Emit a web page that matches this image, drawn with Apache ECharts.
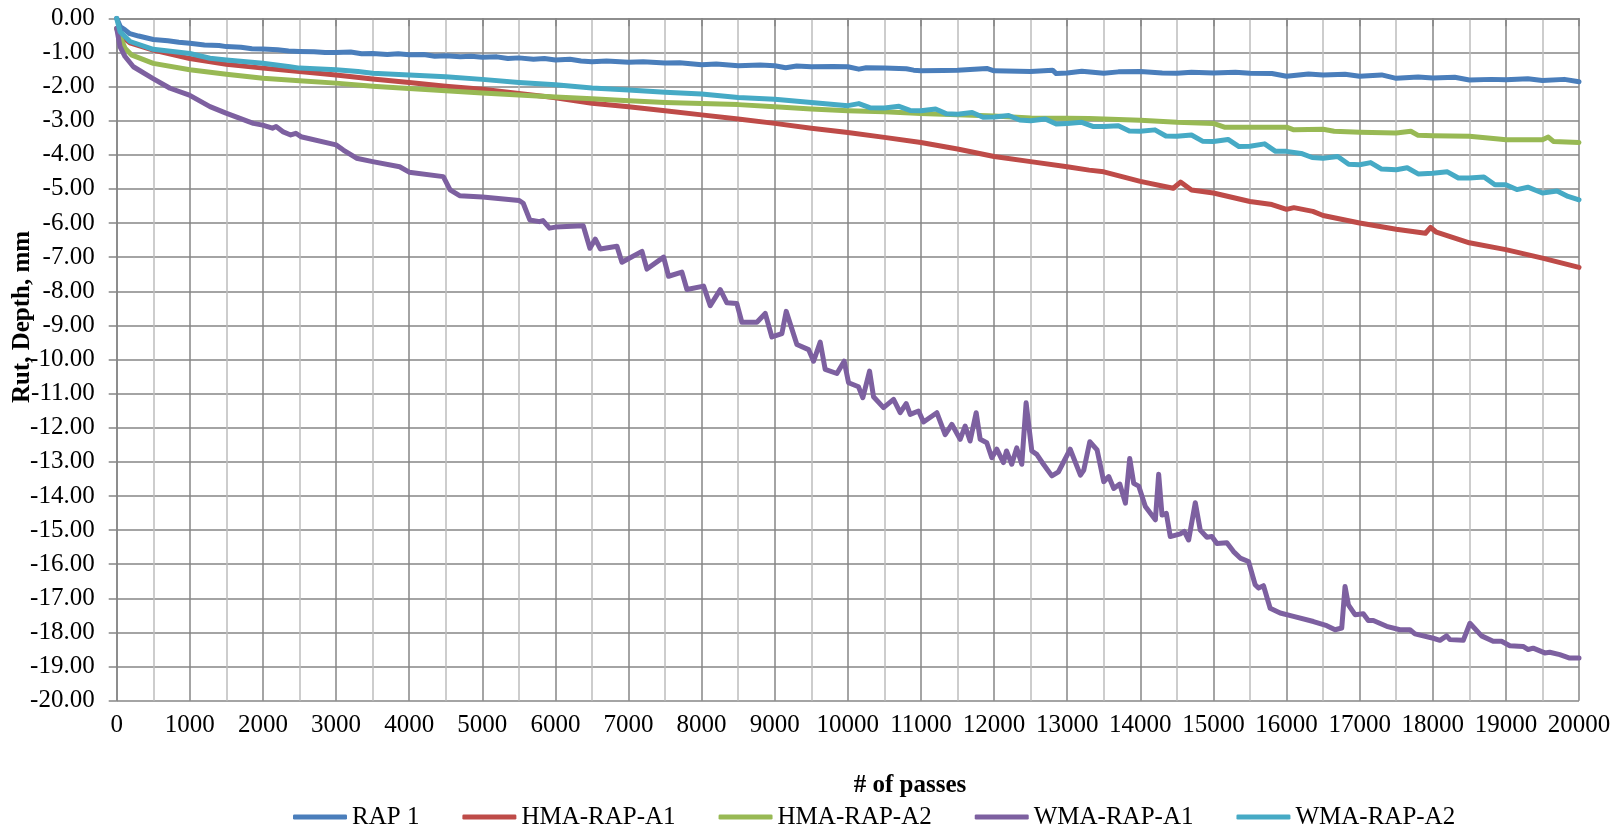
<!DOCTYPE html>
<html>
<head>
<meta charset="utf-8">
<script src="https://cdn.jsdelivr.net/npm/echarts@6/dist/echarts.min.js"></script>
<style>
html,body{margin:0;padding:0;background:#fff;}
#chart{width:1621px;height:833px;}
</style>
</head>
<body>
<div id="chart"></div>
<script>
const seriesNames = ['RAP 1', 'HMA-RAP-A1', 'HMA-RAP-A2', 'WMA-RAP-A1', 'WMA-RAP-A2'];
const xAxisTitle = '# of passes';
const yAxisTitle = 'Rut, Depth, mm';

const rap1 = [[0,0],[50,-0.25],[114,-0.34],[180,-0.45],[300,-0.52],[500,-0.62],[700,-0.66],[850,-0.7],[1000,-0.73],[1200,-0.78],[1400,-0.8],[1500,-0.83],[1700,-0.85],[1850,-0.89],[2000,-0.9],[2200,-0.92],[2350,-0.96],[2500,-0.97],[2700,-0.98],[2850,-1.0],[3000,-1.0],[3200,-0.99],[3350,-1.04],[3500,-1.03],[3700,-1.06],[3850,-1.04],[4000,-1.07],[4200,-1.06],[4350,-1.11],[4500,-1.1],[4700,-1.13],[4850,-1.11],[5000,-1.14],[5200,-1.13],[5350,-1.18],[5500,-1.16],[5700,-1.2],[5850,-1.18],[6000,-1.22],[6200,-1.2],[6350,-1.25],[6500,-1.27],[6700,-1.25],[7000,-1.29],[7200,-1.27],[7500,-1.31],[7700,-1.3],[8000,-1.36],[8200,-1.34],[8500,-1.39],[8800,-1.37],[9000,-1.39],[9150,-1.45],[9300,-1.4],[9500,-1.42],[9800,-1.41],[10000,-1.42],[10150,-1.49],[10250,-1.45],[10500,-1.46],[10800,-1.48],[10900,-1.52],[11000,-1.54],[11300,-1.53],[11500,-1.52],[11900,-1.47],[12000,-1.54],[12500,-1.56],[12800,-1.52],[12850,-1.62],[13000,-1.6],[13200,-1.55],[13500,-1.61],[13700,-1.57],[14000,-1.56],[14300,-1.6],[14500,-1.61],[14700,-1.58],[15000,-1.6],[15300,-1.58],[15500,-1.61],[15800,-1.62],[16000,-1.7],[16300,-1.63],[16500,-1.66],[16800,-1.64],[17000,-1.7],[17300,-1.66],[17500,-1.76],[17800,-1.72],[18000,-1.75],[18300,-1.73],[18500,-1.81],[18800,-1.79],[19000,-1.8],[19300,-1.77],[19500,-1.82],[19800,-1.79],[20000,-1.86]];

const hmaRapA1 = [[0,-0.3],[50,-0.5],[180,-0.72],[500,-0.93],[1000,-1.18],[1500,-1.35],[2000,-1.46],[2500,-1.56],[3000,-1.66],[3500,-1.78],[4000,-1.88],[4500,-1.99],[5000,-2.08],[5500,-2.2],[6000,-2.33],[6500,-2.49],[7000,-2.59],[7500,-2.71],[8000,-2.83],[8500,-2.95],[9000,-3.08],[9500,-3.22],[10000,-3.35],[10500,-3.49],[11000,-3.64],[11500,-3.83],[12000,-4.05],[12500,-4.2],[13000,-4.35],[13300,-4.45],[13500,-4.5],[14000,-4.78],[14450,-4.98],[14550,-4.8],[14700,-5.03],[15000,-5.12],[15500,-5.37],[15800,-5.46],[16000,-5.6],[16100,-5.55],[16360,-5.66],[16500,-5.78],[17000,-6.0],[17500,-6.18],[17900,-6.3],[17970,-6.13],[18050,-6.27],[18500,-6.58],[19000,-6.78],[19500,-7.03],[20000,-7.3]];

const hmaRapA2 = [[0,-0.3],[114,-0.88],[200,-1.07],[500,-1.32],[1000,-1.51],[1500,-1.64],[2000,-1.76],[2500,-1.83],[3000,-1.9],[3500,-1.99],[4000,-2.06],[4500,-2.12],[5000,-2.19],[5500,-2.25],[6000,-2.31],[6500,-2.36],[7000,-2.42],[7500,-2.47],[8000,-2.5],[8500,-2.53],[9000,-2.59],[9500,-2.66],[10000,-2.71],[10500,-2.74],[11000,-2.79],[11500,-2.83],[12000,-2.86],[12500,-2.92],[13000,-2.93],[13300,-2.94],[13500,-2.95],[14000,-2.99],[14500,-3.05],[15000,-3.08],[15150,-3.19],[15500,-3.19],[16000,-3.19],[16100,-3.27],[16500,-3.25],[16650,-3.31],[17000,-3.34],[17500,-3.36],[17700,-3.31],[17800,-3.43],[18000,-3.44],[18500,-3.46],[18900,-3.54],[19000,-3.56],[19500,-3.56],[19580,-3.48],[19650,-3.61],[20000,-3.64]];

const wmaRapA1 = [[0,-0.29],[45,-0.83],[114,-1.12],[228,-1.42],[492,-1.76],[729,-2.05],[994,-2.25],[1276,-2.59],[1495,-2.78],[1869,-3.08],[1996,-3.13],[2130,-3.22],[2180,-3.17],[2270,-3.32],[2380,-3.42],[2450,-3.37],[2520,-3.47],[3000,-3.71],[3100,-3.86],[3280,-4.1],[3500,-4.2],[3870,-4.35],[4000,-4.51],[4467,-4.64],[4560,-5.03],[4690,-5.2],[5004,-5.24],[5505,-5.34],[5560,-5.42],[5650,-5.91],[5780,-5.96],[5830,-5.93],[5920,-6.15],[5998,-6.12],[6381,-6.08],[6472,-6.74],[6546,-6.47],[6614,-6.76],[6842,-6.68],[6910,-7.15],[7184,-6.83],[7252,-7.35],[7480,-7.0],[7548,-7.56],[7730,-7.44],[7799,-7.95],[8027,-7.85],[8118,-8.42],[8255,-7.95],[8346,-8.34],[8482,-8.36],[8551,-8.91],[8756,-8.91],[8870,-8.65],[8961,-9.34],[9098,-9.24],[9157,-8.59],[9303,-9.56],[9463,-9.71],[9531,-10.05],[9622,-9.49],[9690,-10.29],[9850,-10.41],[9950,-10.05],[10010,-10.68],[10146,-10.8],[10205,-11.12],[10297,-10.34],[10351,-11.09],[10488,-11.41],[10625,-11.17],[10716,-11.56],[10798,-11.29],[10853,-11.61],[10967,-11.51],[11035,-11.83],[11217,-11.56],[11331,-12.2],[11422,-11.9],[11536,-12.34],[11604,-11.95],[11672,-12.39],[11755,-11.56],[11810,-12.34],[11900,-12.44],[11969,-12.88],[12037,-12.63],[12128,-13.02],[12170,-12.68],[12242,-13.07],[12310,-12.59],[12379,-13.07],[12438,-11.27],[12516,-12.68],[12584,-12.78],[12675,-13.07],[12790,-13.41],[12881,-13.29],[13041,-12.63],[13181,-13.39],[13227,-13.24],[13309,-12.41],[13409,-12.65],[13500,-13.58],[13568,-13.43],[13637,-13.78],[13719,-13.65],[13796,-14.21],[13855,-12.9],[13910,-13.63],[13978,-13.71],[14069,-14.31],[14206,-14.7],[14251,-13.36],[14297,-14.56],[14356,-14.51],[14410,-15.19],[14547,-15.11],[14601,-15.04],[14661,-15.29],[14752,-14.2],[14820,-15.0],[14911,-15.21],[14979,-15.19],[15047,-15.39],[15184,-15.37],[15275,-15.63],[15366,-15.82],[15480,-15.92],[15571,-16.6],[15617,-16.7],[15685,-16.63],[15776,-17.29],[15913,-17.43],[16095,-17.53],[16368,-17.68],[16550,-17.8],[16664,-17.92],[16755,-17.87],[16800,-16.65],[16846,-17.19],[16937,-17.48],[17050,-17.45],[17118,-17.65],[17187,-17.65],[17369,-17.82],[17551,-17.92],[17688,-17.92],[17756,-18.04],[18007,-18.17],[18098,-18.23],[18189,-18.1],[18235,-18.21],[18417,-18.23],[18508,-17.73],[18667,-18.1],[18826,-18.26],[18940,-18.26],[19054,-18.39],[19236,-18.41],[19305,-18.5],[19373,-18.46],[19532,-18.6],[19600,-18.58],[19737,-18.65],[19873,-18.75],[20000,-18.75]];

const wmaRapA2 = [[0,0],[46,-0.39],[182,-0.68],[500,-0.91],[1000,-1.03],[1276,-1.17],[1500,-1.22],[2000,-1.32],[2370,-1.42],[2500,-1.46],[3000,-1.51],[3300,-1.56],[3500,-1.61],[4000,-1.66],[4500,-1.71],[5000,-1.79],[5500,-1.88],[6000,-1.95],[6500,-2.04],[7000,-2.1],[7500,-2.17],[8000,-2.22],[8500,-2.32],[9000,-2.37],[9500,-2.47],[10000,-2.56],[10150,-2.5],[10300,-2.62],[10500,-2.63],[10700,-2.58],[10850,-2.7],[11000,-2.71],[11200,-2.66],[11350,-2.8],[11500,-2.81],[11700,-2.76],[11850,-2.9],[12000,-2.89],[12200,-2.85],[12350,-2.98],[12500,-3.0],[12700,-2.95],[12850,-3.1],[13000,-3.08],[13200,-3.05],[13350,-3.17],[13500,-3.17],[13700,-3.15],[13850,-3.3],[14000,-3.31],[14200,-3.27],[14350,-3.45],[14500,-3.46],[14700,-3.42],[14850,-3.6],[15000,-3.61],[15200,-3.55],[15350,-3.76],[15500,-3.75],[15700,-3.68],[15850,-3.9],[16000,-3.9],[16200,-3.96],[16350,-4.08],[16500,-4.1],[16700,-4.05],[16850,-4.28],[17000,-4.29],[17150,-4.23],[17300,-4.42],[17500,-4.44],[17650,-4.38],[17800,-4.56],[18000,-4.54],[18200,-4.5],[18350,-4.68],[18500,-4.68],[18700,-4.65],[18850,-4.88],[19000,-4.88],[19150,-5.02],[19300,-4.95],[19500,-5.12],[19700,-5.06],[19850,-5.22],[20000,-5.32]];

const seriesData = [rap1, hmaRapA1, hmaRapA2, wmaRapA1, wmaRapA2];
const seriesColors = ['#4A7EBB', '#BE4B48', '#98B954', '#7D60A0', '#46AAC5'];

const FONT = '"Liberation Serif", "Times New Roman", serif';
const chart = echarts.init(document.getElementById('chart'), null, {renderer: 'canvas'});

const option = {
  animation: false,
  backgroundColor: '#ffffff',
  grid: {left: 116.7, right: 42, top: 18.3, bottom: 132.3, containLabel: false, outerBoundsMode: 'none'},
  xAxis: {
    type: 'value', min: 0, max: 20000, interval: 1000,
    axisLine: {show: true, lineStyle: {color: '#868686', width: 1.5}},
    axisTick: {show: true, inside: false, length: 8, lineStyle: {color: '#868686', width: 1.5}},
    axisLabel: {show: true, margin: 12, color: '#000', fontFamily: FONT, fontSize: 25,
      formatter: v => String(v)},
    splitLine: {show: true, lineStyle: {color: '#868686', width: 1.5}},
    minorTick: {show: false, splitNumber: 2},
    minorSplitLine: {show: true, lineStyle: {color: '#BDBDBD', width: 1.5}}
  },
  yAxis: {
    type: 'value', min: -20, max: 0, interval: 1,
    axisLine: {show: true, lineStyle: {color: '#868686', width: 1.5}},
    axisTick: {show: true, inside: false, length: 8, lineStyle: {color: '#868686', width: 1.5}},
    axisLabel: {show: true, margin: 22, color: '#000', fontFamily: FONT, fontSize: 25,
      formatter: v => v.toFixed(2)},
    splitLine: {show: true, lineStyle: {color: '#868686', width: 1.5}}
  },
  legend: {
    show: true, left: 293, top: 804.5, padding: 0, itemGap: 43,
    itemWidth: 54, itemHeight: 5, icon: 'roundRect',
    textStyle: {color: '#000', fontFamily: FONT, fontSize: 25},
    data: seriesNames
  },
  graphic: [
    {type: 'text', x: 910, y: 786,
      style: {text: xAxisTitle, fill: '#000', font: 'bold 25px ' + FONT, textAlign: 'center', textVerticalAlign: 'middle'}},
    {type: 'text', x: 23, y: 317, rotation: Math.PI / 2,
      style: {text: yAxisTitle, fill: '#000', font: 'bold 25px ' + FONT, textAlign: 'center', textVerticalAlign: 'middle'}}
  ],
  series: seriesNames.map((name, i) => ({
    name: name, type: 'line', data: seriesData[i],
    showSymbol: false, symbol: 'none', smooth: false,
    itemStyle: {color: seriesColors[i]},
    lineStyle: {color: seriesColors[i], width: 5, join: 'round', cap: 'round'},
    emphasis: {disabled: true}
  }))
};
chart.setOption(option);
</script>
</body>
</html>
